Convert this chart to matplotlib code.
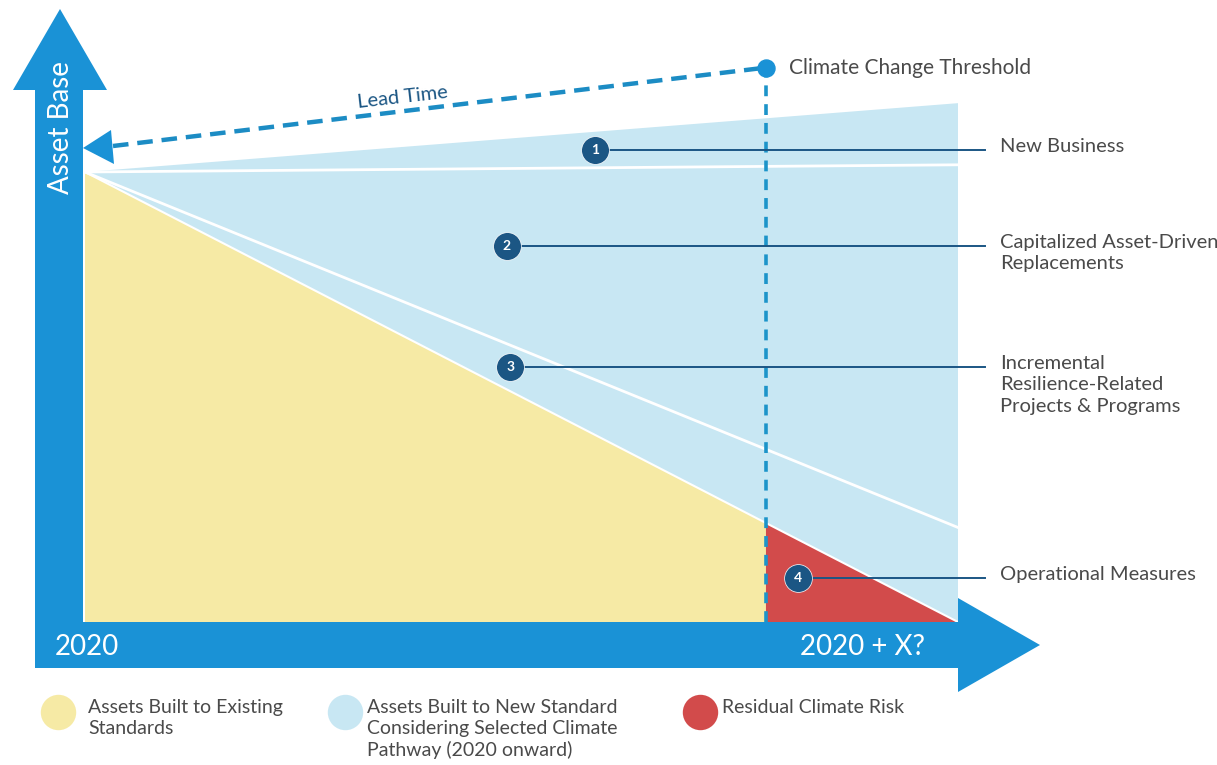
import matplotlib
matplotlib.use("Agg")
import matplotlib.pyplot as plt
from matplotlib.patches import Polygon

plt.rcParams['font.family'] = ['Lato', 'DejaVu Sans']

# time axis as fraction of the horizon (0 = 2020, 1 = 2020 + X)
t = [0.0, 1.0]
t_threshold = 0.78

# asset base levels at start / end of horizon
new_business_top = [100, 115.3]
new_business_floor = [100, 101.6]
resilience_line = [100, 21]
existing_assets = [100, 0]
threshold_level = 123.2
lead_time_end = 105.3

# numbered call-outs
marker_text = ['1', '2', '3', '4']
marker_t = [0.584, 0.483, 0.487, 0.817]
marker_y = [104.9, 83.6, 56.7, 9.8]
callout_labels = ['New Business',
                  'Capitalized Asset-Driven\nReplacements',
                  'Incremental\nResilience-Related\nProjects & Programs',
                  'Operational Measures']

legend_labels = ['Assets Built to Existing\nStandards',
                 'Assets Built to New Standard\nConsidering Selected Climate\nPathway (2020 onward)',
                 'Residual Climate Risk']

YELLOW = '#f6eaa5'
LIGHT_BLUE = '#c8e7f3'
RED = '#d24b4b'
ARROW_BLUE = '#1a92d6'
NAVY = '#1b5684'
TEXT = '#4a4a4a'

# pixel layout helpers (origin of the plot at px (85, 622))
X0, XS = 85, 873.0
Y0, YS = 622, 4.5


def px(x, y):
    return ((x - X0) / XS, (Y0 - y) / YS)


fig = plt.figure(figsize=(12.17, 7.65), dpi=100)
ax = fig.add_axes([0, 0, 1, 1])
ax.set_xlim(px(0, 0)[0], px(1217, 0)[0])
ax.set_ylim(px(0, 765)[1], px(0, 0)[1])
ax.axis('off')


def lerp(vals, x):
    return vals[0] + (vals[1] - vals[0]) * x


# light blue: new standard assets
ax.fill([t[0], t[1], t[1]], [new_business_top[0], new_business_top[1], 0], color=LIGHT_BLUE, lw=0, zorder=1)
# yellow: existing assets until threshold
y_thr = lerp(existing_assets, t_threshold)
ax.fill([t[0], t_threshold, t_threshold, t[0]], [existing_assets[0], y_thr, 0, 0], color=YELLOW, lw=0, zorder=2)
# red: residual climate risk after threshold
ax.fill([t_threshold, t[1], t_threshold], [y_thr, existing_assets[1], 0], color=RED, lw=0, zorder=2)

# white separator lines
ax.plot(t, new_business_floor, color='white', lw=2, zorder=3)
ax.plot(t, resilience_line, color='white', lw=2, zorder=3)
ax.plot(t, existing_assets, color='white', lw=1.5, zorder=3)

# axis arrows
v_arrow = [px(35, 668), px(35, 90), px(13, 90), px(60, 9), px(107, 90), px(83, 90), px(83, 668)]
h_arrow = [px(35, 622), px(958, 622), px(958, 598), px(1040, 645), px(958, 692), px(958, 668), px(35, 668)]
ax.add_patch(Polygon(v_arrow, closed=True, color=ARROW_BLUE, lw=0, zorder=4))
ax.add_patch(Polygon(h_arrow, closed=True, color=ARROW_BLUE, lw=0, zorder=4))

ax.text(*px(55, 647), '2020', color='white', fontsize=20, ha='left', va='center', zorder=5)
ax.text(*px(925, 647), '2020 + X?', color='white', fontsize=20, ha='right', va='center', zorder=5)
ax.text(*px(61, 127), 'Asset Base', color='white', fontsize=20, rotation=90, ha='center', va='center', zorder=5)

# threshold vertical dashed line and dot
ax.plot([t_threshold, t_threshold], [0, threshold_level], color='#1c94c9', lw=2.6,
        dashes=(3, 2.2), zorder=6)
ax.scatter([t_threshold], [threshold_level], s=150, color=ARROW_BLUE, zorder=7)
ax.text(t_threshold + 0.026, threshold_level, 'Climate Change Threshold', color=TEXT,
        fontsize=15, ha='left', va='center')

# lead time dashed arrow
lead_start = px(113, 146)
ax.plot([lead_start[0], t_threshold], [lead_start[1], threshold_level], color='#1c8cc4', lw=3.2,
        dashes=(3.5, 2), zorder=6)
ax.add_patch(Polygon([px(83, 148), px(111, 130), px(114, 164)], closed=True, color=ARROW_BLUE, lw=0, zorder=6))
ax.text(*px(403, 97), 'Lead Time', color=NAVY, fontsize=14.5, rotation=6.5, ha='center', va='center')

# numbered call-outs with leader lines
line_end = px(985, 0)[0]
label_x = px(1000, 0)[0]
for m, mt, my, lab in zip(marker_text, marker_t, marker_y, callout_labels):
    ax.plot([mt, line_end], [my, my], color=NAVY, lw=1.4, zorder=8)
    ax.scatter([mt], [my], s=400, color=NAVY, edgecolor='white', linewidth=0.5, zorder=9)
    ax.text(mt, my, m, color='white', fontsize=10, fontweight='bold', ha='center', va='center', zorder=10)
    ax.text(label_x, my + 2.6, lab, color=TEXT, fontsize=14.5, ha='left', va='top', linespacing=1.3)

# legend
legend_colors = [YELLOW, LIGHT_BLUE, RED]
legend_dot_x = [58, 345, 700]
legend_text_x = [88, 367, 722]
for col, dx, tx, lab in zip(legend_colors, legend_dot_x, legend_text_x, legend_labels):
    ax.scatter(*px(dx, 712), s=650, color=col, lw=0)
    ax.text(*px(tx, 699), lab, color=TEXT, fontsize=14, ha='left', va='top', linespacing=1.28)

fig.savefig('out.png', dpi=100)
